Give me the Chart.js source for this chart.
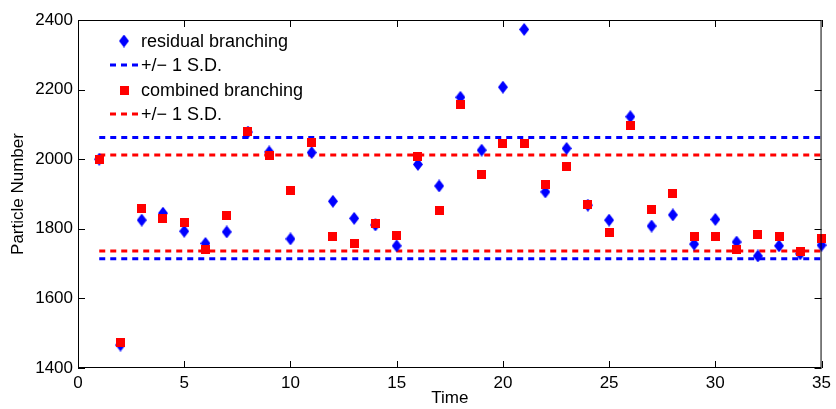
<!DOCTYPE html>
<html>
<head>
<meta charset="utf-8">
<script src="https://cdn.jsdelivr.net/npm/chart.js@4.4.0/dist/chart.umd.min.js"></script>
<style>
  html, body { margin: 0; padding: 0; background: #fff; }
</style>
</head>
<body>
<canvas id="myChart" width="836" height="409"></canvas>
<script>
// time steps 1..35
var timeSteps = [1, 2, 3, 4, 5, 6, 7, 8, 9, 10, 11, 12, 13, 14, 15, 16, 17, 18,
    19, 20, 21, 22, 23, 24, 25, 26, 27, 28, 29, 30, 31, 32, 33, 34, 35];
var residual = [2000, 1466, 1825, 1845, 1793, 1758, 1791, 2078, 2021, 1771, 2019, 1879,
    1830, 1811, 1751, 1985, 1923, 2178, 2026, 2207, 2373, 1906, 2031, 1868, 1825, 2122,
    1808, 1840, 1756, 1827, 1762, 1722, 1751, 1728, 1753];
var combined = [2000, 1473, 1858, 1829, 1818, 1741, 1839, 2080, 2012, 1911, 2047, 1777,
    1758, 1816, 1780, 2007, 1854, 2158, 1957, 2044, 2046, 1927, 1978, 1871, 1789, 2097,
    1856, 1902, 1777, 1779, 1741, 1784, 1777, 1736, 1772];
var residualSD = [1714, 2062];
var combinedSD = [1736, 2012];
var xTicks = [0, 5, 10, 15, 20, 25, 30, 35];
var yTicks = [1400, 1600, 1800, 2000, 2200, 2400];
var legendLabels = ["residual branching", "+/\u2212 1 S.D.", "combined branching", "+/\u2212 1 S.D."];

var BLUE = "#0000ff";
var RED = "#ff0000";
var FONT = "'Liberation Sans', Arial, sans-serif";

function pts(ys) {
    return timeSteps.map(function (t, i) { return { x: t, y: ys[i] }; });
}

// two horizontal lines with a gap between them
function sdLines(lv) {
    var first = timeSteps[0], last = timeSteps[timeSteps.length - 1];
    return [
        { x: first, y: lv[0] }, { x: last, y: lv[0] },
        { x: last, y: NaN },
        { x: first, y: lv[1] }, { x: last, y: lv[1] }
    ];
}

// marker images
function diamondImg(w, h, col) {
    var c = document.createElement("canvas");
    c.width = w; c.height = h;
    var g = c.getContext("2d");
    g.fillStyle = col;
    g.beginPath();
    g.moveTo(w / 2, 0);
    g.lineTo(w, h / 2);
    g.lineTo(w / 2, h);
    g.lineTo(0, h / 2);
    g.closePath();
    g.fill();
    return c;
}
function squareImg(s, col) {
    var c = document.createElement("canvas");
    c.width = s; c.height = s;
    var g = c.getContext("2d");
    g.fillStyle = col;
    g.fillRect(0, 0, s, s);
    return c;
}
var diamond = diamondImg(10, 13, BLUE);
var square = squareImg(9, RED);

// inner ticks on all four sides + in-plot legend (matlab style)
var matlabStyle = {
    id: "matlabStyle",
    afterDraw: function (chart) {
        var ctx = chart.ctx;
        var a = chart.chartArea;
        var xs = chart.scales.x, ys = chart.scales.y;
        ctx.save();
        ctx.strokeStyle = "#000";
        ctx.lineWidth = 1;
        ctx.strokeRect(a.left + 0.5, a.top + 0.5, a.right - a.left - 1, a.bottom - a.top - 1);
        ctx.beginPath();
        xTicks.forEach(function (v) {
            var px = Math.round(xs.getPixelForValue(v)) + 0.5;
            ctx.moveTo(px, a.bottom); ctx.lineTo(px, a.bottom - 7);
            ctx.moveTo(px, a.top); ctx.lineTo(px, a.top + 7);
        });
        yTicks.forEach(function (v) {
            var py = Math.round(ys.getPixelForValue(v)) + 0.5;
            ctx.moveTo(a.left, py); ctx.lineTo(a.left + 7, py);
            ctx.moveTo(a.right, py); ctx.lineTo(a.right - 7, py);
        });
        ctx.stroke();

        // legend
        var rows = [41, 65, 90, 114];
        ctx.font = "18px " + FONT;
        ctx.textBaseline = "middle";
        ctx.fillStyle = "#000";
        rows.forEach(function (ry, i) {
            if (i === 0) ctx.drawImage(diamond, 124 - 5, ry - 6.5);
            if (i === 2) ctx.drawImage(square, 124 - 4.5, ry - 4.5);
            if (i === 1 || i === 3) {
                ctx.save();
                ctx.strokeStyle = i === 1 ? BLUE : RED;
                ctx.lineWidth = 3;
                ctx.setLineDash([6, 5]);
                ctx.beginPath();
                ctx.moveTo(110, ry); ctx.lineTo(139, ry);
                ctx.stroke();
                ctx.restore();
            }
            ctx.fillText(legendLabels[i], 141, ry + 1);
        });
        ctx.restore();
    }
};

var ctx = document.getElementById("myChart");
var chart = new Chart(ctx, {
    type: "scatter",
    data: {
        datasets: [{
            label: legendLabels[0],
            data: pts(residual),
            pointStyle: diamond,
            showLine: false,
            order: 2
        }, {
            label: legendLabels[1],
            data: sdLines(residualSD),
            showLine: true,
            spanGaps: false,
            borderColor: BLUE,
            borderWidth: 3,
            borderDash: [6, 5],
            pointRadius: 0,
            order: 4
        }, {
            label: legendLabels[2],
            data: pts(combined),
            pointStyle: square,
            showLine: false,
            order: 1
        }, {
            label: legendLabels[3],
            data: sdLines(combinedSD),
            showLine: true,
            spanGaps: false,
            borderColor: RED,
            borderWidth: 3,
            borderDash: [6, 5],
            pointRadius: 0,
            order: 3
        }]
    },
    options: {
        responsive: false,
        animation: false,
        clip: false,
        layout: { padding: { top: 20, right: 12, left: 0, bottom: 0 } },
        plugins: {
            legend: { display: false },
            tooltip: { enabled: false }
        },
        scales: {
            x: {
                type: "linear",
                min: 0,
                max: 35,
                afterBuildTicks: function (s) { s.ticks = xTicks.map(function (v) { return { value: v }; }); },
                ticks: {
                    color: "#000", font: { size: 17, family: FONT }, padding: 5, maxRotation: 0,
                    callback: function (v) { return String(v); }
                },
                grid: { display: false, drawTicks: false },
                border: { display: false },
                title: { display: true, text: "Time", color: "#000", font: { size: 17, family: FONT }, padding: { top: 6, bottom: 0 } },
                afterFit: function (s) { s.height = 41; }
            },
            y: {
                min: 1400,
                max: 2400,
                afterBuildTicks: function (s) { s.ticks = yTicks.map(function (v) { return { value: v }; }); },
                ticks: {
                    color: "#000", font: { size: 17, family: FONT }, padding: 5,
                    callback: function (v) { return String(v); }
                },
                grid: { display: false, drawTicks: false },
                border: { display: false },
                title: { display: true, text: "Particle Number", color: "#000", font: { size: 17, family: FONT }, padding: { top: 8, bottom: 0 } },
                afterFit: function (s) { s.width = 78; }
            }
        }
    },
    plugins: [matlabStyle]
});
</script>
</body>
</html>
